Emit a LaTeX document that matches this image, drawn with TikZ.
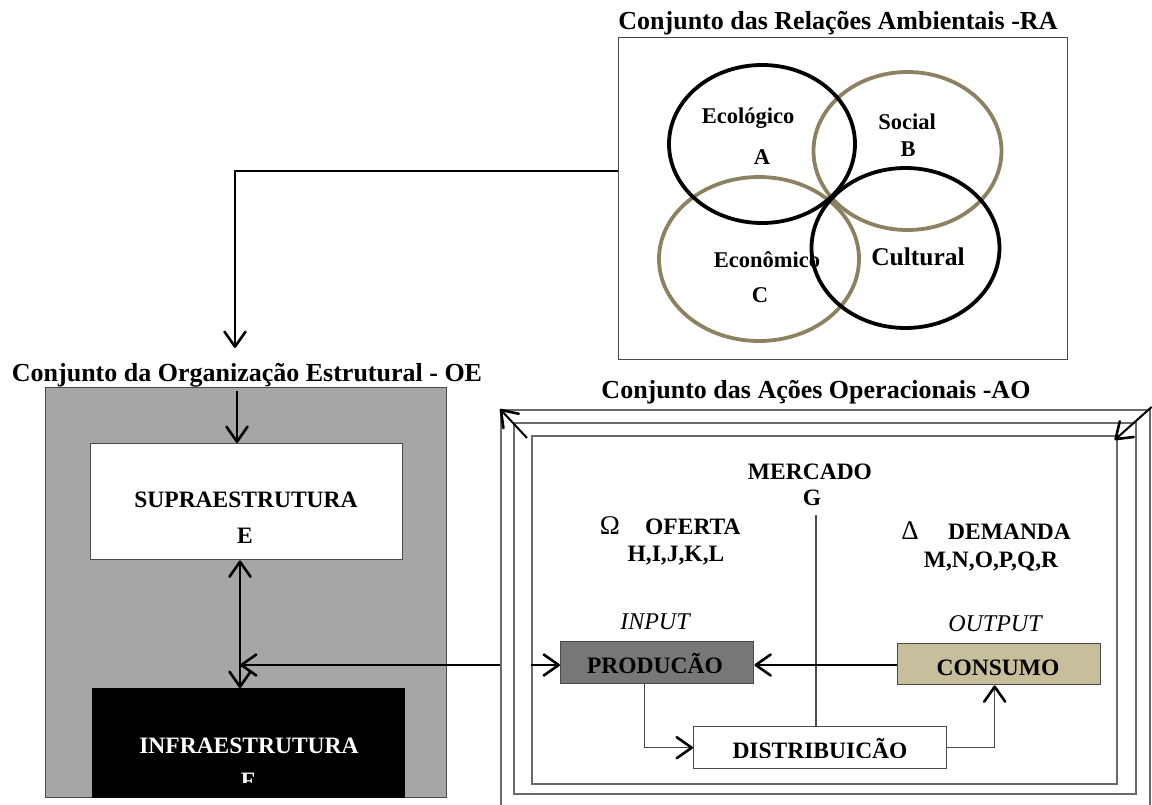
\documentclass[tikz,border=0pt]{standalone}
\usepackage{fontspec}
\setmainfont{Liberation Serif}
\usetikzlibrary{arrows.meta}
\definecolor{gold}{HTML}{8C8262}
\definecolor{beige}{HTML}{C7BF9B}
\definecolor{prodgray}{HTML}{777777}
\definecolor{oegray}{HTML}{A6A6A6}
\definecolor{framegray}{HTML}{6A6A6A}
\definecolor{edgegray}{HTML}{4A4A4A}
\tikzset{
  box/.style={draw=edgegray, line width=1.4pt, inner sep=0pt, anchor=north west},
  frame/.style={draw=framegray, line width=1.6pt, inner sep=0pt, anchor=north west},
  lbl/.style={font=\fontsize{23.5}{28}\selectfont\bfseries, inner sep=0pt, anchor=base},
  ttl/.style={font=\fontsize{26}{30}\selectfont\bfseries, inner sep=0pt, anchor=base},
  tip/.style={-{Straight Barb[length=15pt,width=21pt,line width=2.6pt,round]}},
  arr/.style={line width=2pt, tip},
  arrtwo/.style={line width=2pt, {Straight Barb[length=15pt,width=21pt,line width=2.6pt,round]}-{Straight Barb[length=15pt,width=21pt,line width=2.6pt,round]}},
  thinarr/.style={line width=1.3pt, draw=edgegray, -{Straight Barb[length=15pt,width=21pt,line width=2.6pt,round,color=black]}},
  venn/.style={line width=3.8pt},
}
\begin{document}
\begin{tikzpicture}[x=1pt,y=-1pt]
\useasboundingbox (0,0) rectangle (1152,805);
\clip (0,0) rectangle (1152,805);

% ---------- RA ----------
\node[ttl] (raT) at (838,30) {Conjunto das Relações Ambientais -RA};
\node[box, minimum width=449pt, minimum height=322pt] (ra) at (618,37) {};
\draw[venn, gold] (907.5,151) ellipse [x radius=94pt, y radius=79pt];
\draw[venn, gold] (759,259) ellipse [x radius=100pt, y radius=82pt];
\draw[venn, black] (762,144) ellipse [x radius=93pt, y radius=79pt];
\draw[venn, black] (905.5,248) ellipse [x radius=94pt, y radius=80pt];
\node[lbl, font=\fontsize{22.5}{26}\selectfont\bfseries] (ecoT) at (748,124) {Ecológico};
\node[lbl, font=\fontsize{22.5}{26}\selectfont\bfseries] (aT) at (762,165) {A};
\node[lbl, font=\fontsize{22.5}{26}\selectfont\bfseries] (socT) at (907,130) {Social};
\node[lbl, font=\fontsize{22.5}{26}\selectfont\bfseries] (bT) at (908,157) {B};
\node[lbl, font=\fontsize{22.5}{26}\selectfont\bfseries] (ecnT) at (767,268) {Econômico};
\node[lbl, font=\fontsize{22.5}{26}\selectfont\bfseries] (cT) at (760,302) {C};
\node[lbl, font=\fontsize{25.5}{30}\selectfont\bfseries] (culT) at (918,266) {Cultural};

% ---------- OE ----------
\node[ttl] (oeT) at (247,381) {Conjunto da Organização Estrutural - OE};
\node[box, fill=oegray, minimum width=401pt, minimum height=410pt] (oe) at (45,387) {};
\node[box, fill=white, minimum width=312pt, minimum height=116pt] (supra) at (90,443) {};
\node[box, draw=black, fill=black, minimum width=312pt, minimum height=109pt] (infra) at (92,688) {};
\node[lbl] (supraT) at (246,507) {SUPRAESTRUTURA};
\node[lbl] (eT) at (245,543) {E};
\node[lbl, text=white] (infraT) at (249,753) {INFRAESTRUTURA};
\begin{scope}
\clip (92,700) rectangle (404,782);
\node[lbl, text=white] (fT) at (248,788) {F};
\end{scope}

\coordinate (oeIn) at (235,348);
\coordinate (oeTop) at (237,391);
\coordinate (oeJ) at (240,665);
\draw[arr] ([yshift=28pt]ra.west) -| (oeIn);
\draw[arr] (oeTop) -- (oeTop |- supra.north);
\draw[arrtwo] (oeJ |- supra.south) -- (oeJ |- infra.north);

% ---------- AO ----------
\node[ttl] (aoT) at (816,398) {Conjunto das Ações Operacionais -AO};
\node[frame, minimum width=649pt, minimum height=430pt] (aoOuter) at (500,409) {};
\node[frame, minimum width=622pt, minimum height=371pt] (aoMid) at (513,422) {};
\node[frame, minimum width=585pt, minimum height=348pt] (aoInner) at (531,435) {};
\draw[arr] ([shift={(-4pt,-3pt)}]aoInner.north west) -- (aoOuter.north west);
\draw[arr] ([shift={(1pt,2pt)}]aoOuter.north east) -- ([shift={(-3pt,-5pt)}]aoInner.north east);

\node[box, fill=prodgray, minimum width=193pt, minimum height=42pt] (prod) at (560,641) {};
\node[box, fill=beige, minimum width=203pt, minimum height=41pt] (cons) at (897,643) {};
\node[box, fill=white, minimum width=253pt, minimum height=42pt] (dist) at (693,726) {};

\node[lbl] (mercT) at (810,479) {MERCADO};
\node[lbl] (gT) at (812,505) {G};
\node[lbl, font=\fontsize{27}{30}\selectfont] (omT) at (610,534) {Ω};
\node[lbl, anchor=base west] (ofT) at (645,534) {OFERTA};
\node[lbl] (hT) at (676,561) {H,I,J,K,L};
\node[lbl, font=\fontsize{27}{30}\selectfont] (deT) at (910,539) {Δ};
\node[lbl, anchor=base west] (demT) at (948,539) {DEMANDA};
\node[lbl] (mT) at (991,567) {M,N,O,P,Q,R};
\node[lbl, font=\fontsize{24}{28}\selectfont\itshape] (inT) at (655,629) {INPUT};
\node[lbl, font=\fontsize{24}{28}\selectfont\itshape] (outT) at (995,631) {OUTPUT};
\node[lbl] (prodT) at (655,673) {PRODUCÃO};
\node[lbl] (consT) at (998,675) {CONSUMO};
\begin{scope}
\clip (693,726) rectangle (946,757);
\node[lbl] (distT) at (820,758) {DISTRIBUIÇÃO};
\end{scope}

\coordinate (mkt) at (816,515);
\draw[line width=1.2pt, draw=edgegray] (mkt) -- (mkt |- dist.north);
\draw[arr] (aoOuter.west |- oeJ) -- (oeJ);
\draw[arr] (aoInner.west |- oeJ) -- (prod.west |- oeJ);
\draw[arr] (cons.west |- oeJ) -- (prod.east |- oeJ);
\draw[thinarr] ([xshift=-12.5pt]prod.south) |- (dist.west);
\draw[thinarr] (dist.east) -| ([xshift=-4.5pt]cons.south);
\end{tikzpicture}
\end{document}
